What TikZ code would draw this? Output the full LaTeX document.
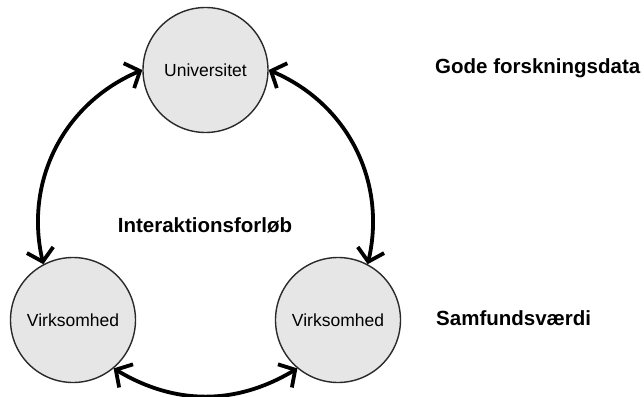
\documentclass[tikz,border=0pt]{standalone}
\usepackage{fontspec}
\setmainfont{Liberation Sans}
\usetikzlibrary{arrows.meta}
\definecolor{circfill}{HTML}{E6E6E6}
\definecolor{circline}{HTML}{2A2A2A}
\begin{document}
\begin{tikzpicture}[x=1pt,y=1pt,
  party/.style={circle, draw=circline, line width=1.4pt, fill=circfill,
    minimum size=125pt, inner sep=0pt, font=\fontsize{17.5}{20}\selectfont},
  label/.style={font=\fontsize{20.5}{24}\selectfont\bfseries, inner sep=0pt},
  flow/.style={line width=3.8pt, line cap=round,
    {Straight Barb[length=12pt,width=27pt,line width=3.8pt]}-{Straight Barb[length=12pt,width=27pt,line width=3.8pt]}}]
\useasboundingbox (0,0) rectangle (644,396);
\node[party] (u) at (205.5,326) {Universitet};
\node[party] (vl) at (73,76) {Virksomhed};
\node[party] (vr) at (338,76) {Virksomhed};
\node[label, anchor=base] (mid) at (205,163) {Interaktionsforløb};
\node[label, anchor=base west] (gode) at (435,322) {Gode forskningsdata};
\node[label, anchor=base west] (samf) at (436,71) {Samfundsværdi};
\draw[flow] (vl.118) to[bend left=40] (u.west);
\draw[flow] (u.east) to[bend left=40] (vr.62);
\draw[flow] (vr.230) to[bend left=31] (vl.310);
\end{tikzpicture}
\end{document}
